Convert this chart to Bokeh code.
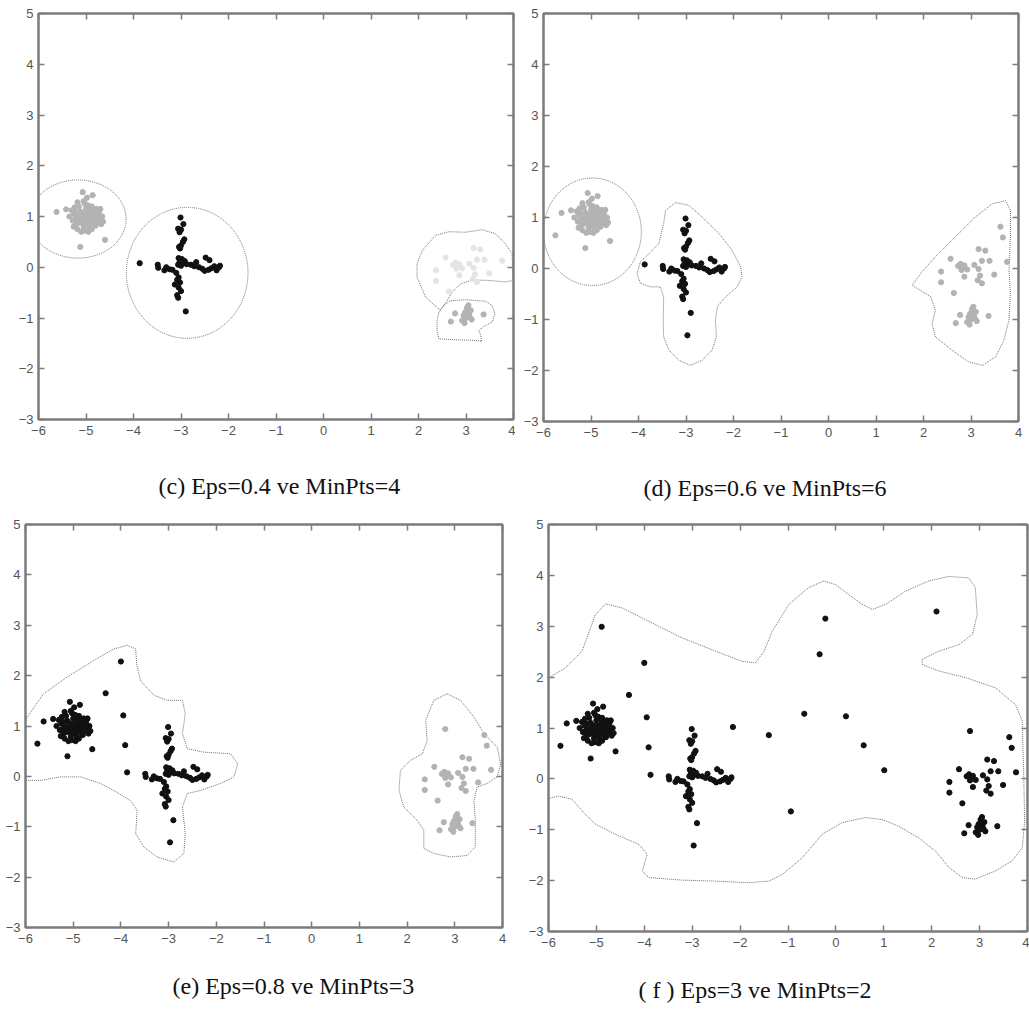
from bokeh.plotting import figure
from bokeh.layouts import column, row
from bokeh.models import LinearAxis, FixedTicker, Title
from bokeh.embed import file_html
from bokeh.resources import INLINE

# ---------------- data ----------------
x_ticks = [-6, -5, -4, -3, -2, -1, 0, 1, 2, 3, 4]
y_ticks = [-3, -2, -1, 0, 1, 2, 3, 4, 5]

# cluster A (dense blob near (-5, 1))
A_pts = [(-5.07, 1.48), (-4.86, 1.42), (-4.98, 1.37), (-5.62, 1.09), (-5.42, 1.14), (-5.12, 0.40), (-4.60, 0.54),
         (-5.30, 1.12), (-5.25, 1.05), (-5.22, 0.95), (-5.20, 0.85), (-5.18, 0.75), (-5.15, 1.20), (-5.12, 1.10),
         (-5.10, 1.00), (-5.08, 0.90), (-5.05, 0.80), (-5.03, 0.72), (-5.02, 1.25), (-5.00, 1.15), (-4.98, 1.05),
         (-4.97, 0.95), (-4.95, 0.85), (-4.93, 0.78), (-4.92, 1.18), (-4.90, 1.08), (-4.88, 0.98), (-4.86, 0.90),
         (-4.85, 1.12), (-4.83, 1.02), (-4.81, 0.94), (-4.80, 0.82), (-4.78, 1.15), (-4.76, 1.05), (-4.74, 0.97),
         (-4.72, 1.12), (-4.70, 0.92), (-4.68, 0.85), (-4.66, 1.00), (-5.28, 0.92), (-5.26, 0.80), (-5.24, 1.18),
         (-5.16, 0.98), (-5.14, 0.88), (-5.06, 1.05), (-5.04, 0.96), (-5.00, 0.88), (-4.96, 1.22), (-4.94, 1.00),
         (-4.90, 0.92), (-4.88, 1.20), (-4.84, 0.86), (-4.82, 1.08), (-4.79, 0.98), (-4.75, 0.90), (-4.73, 1.05),
         (-5.18, 1.28), (-5.10, 0.70), (-4.95, 0.70), (-5.35, 1.00), (-4.64, 0.90), (-5.05, 1.30), (-4.88, 0.75),
         (-5.20, 1.08), (-4.70, 1.15)]
A_extra_pts = [(-5.75, 0.65)]

# cluster B (cross near (-3, 0))
B_pts = [(-3.01, 0.98), (-2.95, 0.85), (-3.06, 0.76), (-3.00, 0.74), (-3.03, 0.69), (-2.93, 0.55), (-2.96, 0.50),
         (-3.04, 0.40), (-3.00, 0.43), (-3.02, 0.37), (-3.05, 0.18), (-2.98, 0.16), (-3.03, 0.10), (-2.96, 0.08),
         (-3.06, 0.05), (-3.00, 0.03), (-2.92, 0.12), (-2.88, 0.06),
         (-3.10, -0.11), (-3.05, -0.20), (-3.08, -0.25), (-3.13, -0.34), (-3.02, -0.30), (-3.05, -0.40),
         (-3.00, -0.47), (-3.08, -0.55), (-3.06, -0.60), (-2.90, -0.87),
         (-3.87, 0.08), (-3.49, 0.05), (-3.48, -0.01), (-3.31, 0.00), (-3.24, -0.04), (-3.18, -0.05), (-3.35, -0.06),
         (-2.79, 0.05), (-2.72, 0.02), (-2.68, 0.10), (-2.62, 0.00), (-2.55, -0.03), (-2.50, -0.07), (-2.48, 0.19),
         (-2.40, 0.14), (-2.42, -0.05), (-2.36, -0.02), (-2.30, 0.02), (-2.25, -0.06), (-2.20, 0.00), (-2.18, 0.03)]
B_extra_pts = [(-2.97, -1.31)]

# cluster C (right side)
C_up_pts = [(2.57, 0.19), (3.16, 0.38), (3.30, 0.35), (3.76, 0.13), (3.23, 0.15), (3.39, 0.15), (2.73, 0.05),
            (2.78, 0.09), (2.82, 0.02), (2.86, 0.06), (2.92, -0.02), (2.80, -0.03), (3.07, 0.07), (3.16, -0.01),
            (2.37, -0.06), (2.86, -0.16), (3.19, -0.14), (3.49, -0.12), (3.14, -0.23), (3.23, -0.29),
            (2.37, -0.27), (2.64, -0.48)]
C_low_pts = [(2.98, -0.89), (3.02, -0.80), (3.05, -0.75), (2.95, -0.95), (3.00, -1.00), (3.06, -0.92),
             (2.92, -1.05), (2.97, -1.10), (3.08, -0.98), (3.10, -0.85), (2.77, -0.91), (3.37, -0.93),
             (2.68, -1.07), (3.12, -1.03), (3.03, -0.86)]
C_extra_pts = [(3.62, 0.82), (3.67, 0.61)]
C_far_pts = [(2.80, 0.94)]

# noise points
N_e_pts = [(-4.00, 2.28), (-4.32, 1.65), (-3.95, 1.21), (-3.91, 0.62)]
N_f_pts = [(-4.89, 2.99), (-2.15, 1.02), (-1.40, 0.86), (-0.66, 1.28), (-0.34, 2.45), (-0.22, 3.15),
           (0.21, 1.23), (0.58, 0.66), (1.01, 0.17), (-0.94, -0.64), (2.10, 3.29)]

# cluster boundaries
c_ellipse_A = (-5.17, 0.95, 2.03, 1.54)   # x, y, width, height
c_ellipse_B = (-2.87, -0.11, 2.56, 2.58)
c_outline_C_up = [(2.46, -0.85), (2.15, -0.59), (1.97, -0.20), (1.97, 0.07), (2.08, 0.33), (2.36, 0.63),
                  (2.64, 0.70), (2.99, 0.69), (3.34, 0.74), (3.62, 0.66), (3.83, 0.46), (3.97, 0.27),
                  (3.99, -0.26), (3.83, -0.29), (3.48, -0.26), (3.13, -0.25), (2.88, -0.33), (2.71, -0.49),
                  (2.60, -0.66)]
c_outline_C_low = [(2.43, -0.89), (2.39, -1.05), (2.39, -1.25), (2.43, -1.41), (2.78, -1.43), (3.16, -1.44),
                   (3.33, -1.46), (3.31, -1.34), (3.27, -1.25), (3.37, -1.17), (3.55, -1.08), (3.61, -0.92),
                   (3.55, -0.75), (3.41, -0.67), (2.99, -0.64), (2.67, -0.66), (2.53, -0.75)]
d_circle_A = (-4.97, 0.72, 2.06, 2.11)
d_outline_B = [(-3.22, 1.29), (-2.94, 1.24), (-2.66, 1.01), (-2.31, 0.69), (-2.03, 0.36), (-1.85, 0.03),
               (-1.82, -0.16), (-1.92, -0.36), (-2.17, -0.56), (-2.34, -0.75), (-2.38, -1.01), (-2.36, -1.34),
               (-2.45, -1.60), (-2.66, -1.80), (-2.91, -1.90), (-3.15, -1.80), (-3.36, -1.60), (-3.47, -1.34),
               (-3.48, -1.01), (-3.47, -0.56), (-3.54, -0.36), (-3.75, -0.36), (-3.96, -0.29), (-4.03, -0.10),
               (-3.96, 0.13), (-3.78, 0.29), (-3.57, 0.49), (-3.47, 0.88), (-3.43, 1.14)]
d_outline_C = [(1.76, -0.33), (1.94, -0.10), (2.25, 0.23), (2.67, 0.62), (3.09, 1.01), (3.45, 1.27),
               (3.73, 1.33), (3.83, 1.14), (3.83, 0.62), (3.80, -0.03), (3.83, -0.49), (3.80, -1.01),
               (3.69, -1.41), (3.52, -1.73), (3.24, -1.90), (2.95, -1.83), (2.60, -1.60), (2.25, -1.34),
               (2.18, -1.08), (2.25, -0.82), (2.15, -0.55), (1.94, -0.43)]
e_outline_AB = [(-6.28, -0.08), (-6.28, 0.32), (-6.17, 0.71), (-5.96, 1.18), (-5.62, 1.64), (-5.13, 1.97),
                (-4.57, 2.30), (-4.15, 2.53), (-3.87, 2.60), (-3.69, 2.53), (-3.67, 2.24), (-3.59, 1.90),
                (-3.31, 1.61), (-3.03, 1.51), (-2.71, 1.51), (-2.65, 1.24), (-2.71, 0.85), (-2.61, 0.55),
                (-2.26, 0.48), (-1.70, 0.45), (-1.55, 0.25), (-1.63, -0.01), (-1.91, -0.14), (-2.33, -0.28),
                (-2.61, -0.34), (-2.71, -0.61), (-2.65, -1.14), (-2.68, -1.53), (-2.89, -1.70), (-3.24, -1.60),
                (-3.52, -1.40), (-3.69, -1.14), (-3.66, -0.67), (-3.80, -0.48), (-4.15, -0.28), (-4.43, -0.14),
                (-4.85, -0.01), (-5.27, -0.01), (-5.69, -0.08), (-6.10, -0.08)]
e_outline_C = [(2.84, 1.64), (3.12, 1.51), (3.40, 1.18), (3.61, 0.85), (3.89, 0.58), (3.96, 0.25),
               (3.89, -0.01), (3.68, -0.14), (3.47, -0.21), (3.40, -0.48), (3.43, -0.87), (3.43, -1.40),
               (3.26, -1.57), (2.91, -1.60), (2.56, -1.53), (2.35, -1.43), (2.35, -1.07), (2.21, -0.87),
               (1.93, -0.61), (1.83, -0.28), (1.86, 0.12), (2.07, 0.32), (2.32, 0.45), (2.42, 0.71),
               (2.39, 1.11), (2.56, 1.51)]
f_outline_all = [(-5.99, 1.99), (-5.65, 2.18), (-5.30, 2.51), (-5.02, 3.23), (-4.81, 3.44), (-4.46, 3.36),
                 (-3.91, 3.10), (-3.21, 2.77), (-2.51, 2.51), (-1.96, 2.31), (-1.68, 2.28), (-1.50, 2.51),
                 (-1.33, 2.90), (-0.98, 3.43), (-0.57, 3.76), (-0.25, 3.89), (-0.01, 3.82), (0.27, 3.62),
                 (0.55, 3.43), (0.76, 3.33), (1.04, 3.43), (1.45, 3.69), (1.94, 3.89), (2.36, 3.98),
                 (2.77, 3.95), (2.91, 3.76), (2.95, 3.23), (2.85, 2.84), (2.57, 2.64), (2.15, 2.51),
                 (1.80, 2.35), (1.80, 2.25), (2.15, 2.12), (2.71, 1.99), (3.33, 1.79), (3.75, 1.46),
                 (3.89, 1.14), (3.92, 0.15), (3.94, -0.83), (3.89, -1.35), (3.68, -1.61), (3.33, -1.81),
                 (2.91, -1.97), (2.64, -1.94), (2.36, -1.74), (2.08, -1.42), (1.73, -1.16), (1.31, -0.93),
                 (0.97, -0.80), (0.62, -0.76), (0.13, -0.86), (-0.29, -1.09), (-0.70, -1.55), (-1.12, -1.88),
                 (-1.40, -2.01), (-1.82, -2.04), (-2.51, -2.01), (-3.21, -1.99), (-3.91, -1.94), (-4.04, -1.81),
                 (-3.94, -1.48), (-4.11, -1.29), (-4.60, -1.09), (-5.02, -0.89), (-5.23, -0.70), (-5.51, -0.40),
                 (-5.79, -0.34), (-6.06, -0.40), (-6.08, 0.15), (-6.06, 1.14), (-6.05, 1.66)]

captions = ["(c) Eps=0.4 ve MinPts=4", "(d) Eps=0.6 ve MinPts=6",
            "(e) Eps=0.8 ve MinPts=3", "( f ) Eps=3 ve MinPts=2"]

# ---------------- styling ----------------
BLACK = "#111111"
GRAY = "#b3b3b3"
LIGHT = "#e4e4e4"
FRAME = "#7c7c7c"
OUTLINE = "#707070"


def xs(pts):
    return [p[0] for p in pts]


def ys(pts):
    return [p[1] for p in pts]


def panel(fw, fh, bl, br, bt, bb, caption, cap_off, cap_gap, cap_standoff):
    p = figure(frame_width=fw, frame_height=fh, x_range=(-6, 4), y_range=(-3, 5),
               output_backend="svg", toolbar_location=None,
               min_border_left=bl, min_border_right=br, min_border_top=bt, min_border_bottom=bb)
    p.background_fill_color = "white"
    p.border_fill_color = "white"
    p.outline_line_color = FRAME
    p.outline_line_width = 2
    p.xgrid.visible = False
    p.ygrid.visible = False
    p.xaxis.ticker = FixedTicker(ticks=x_ticks)
    p.yaxis.ticker = FixedTicker(ticks=y_ticks)
    for ax in (p.xaxis[0], p.yaxis[0]):
        ax.axis_line_color = FRAME
        ax.axis_line_width = 2
        ax.major_tick_in = 6
        ax.major_tick_out = 0
        ax.major_tick_line_color = FRAME
        ax.major_tick_line_width = 1.5
        ax.minor_tick_line_color = None
        ax.major_label_text_font = "Liberation Sans"
        ax.major_label_text_font_size = "13px"
        ax.major_label_text_color = "#555555"
    p.xaxis.major_label_standoff = 6
    p.yaxis.major_label_standoff = 5
    for loc, tk in (("above", x_ticks), ("right", y_ticks)):
        ax = LinearAxis(ticker=FixedTicker(ticks=tk), major_tick_in=6, major_tick_out=0,
                        major_tick_line_color=FRAME, major_tick_line_width=1.5,
                        minor_tick_line_color=None, axis_line_color=FRAME, axis_line_width=2,
                        major_label_text_font_size="1px", major_label_text_color=None,
                        major_label_standoff=0)
        p.add_layout(ax, loc)
    # blank band (white, invisible tick) between the tick labels and the caption
    spacer = LinearAxis(ticker=FixedTicker(ticks=x_ticks[:1]), major_tick_in=0, major_tick_out=cap_gap,
                        minor_tick_in=0, minor_tick_out=0, major_tick_line_color="white",
                        major_tick_line_width=1, minor_tick_line_color=None, axis_line_color=None,
                        major_label_text_font_size="1px", major_label_text_color=None,
                        major_label_standoff=0)
    p.add_layout(spacer, "below")
    cap = Title(text=caption, align="left", vertical_align="bottom", offset=cap_off,
                standoff=cap_standoff, text_font="Liberation Serif", text_font_size="24px",
                text_font_style="normal", text_color="#111111")
    p.add_layout(cap, "below")
    return p


def dots(p, pts, color):
    p.scatter(xs(pts), ys(pts), size=5.2, fill_color=color, line_color=color)


def outline(p, pts):
    p.patch(xs(pts), ys(pts), fill_color=None, line_color=OUTLINE, line_width=1, line_dash="1 1")


def ell(p, e):
    p.ellipse(x=e[0], y=e[1], width=e[2], height=e[3], fill_color=None,
              line_color=OUTLINE, line_width=1, line_dash="1 1")


# (c)
pc = panel(475, 406, 38, 2, 13, 91, captions[0], 120, 29, 8)
ell(pc, c_ellipse_A)
ell(pc, c_ellipse_B)
outline(pc, c_outline_C_up)
outline(pc, c_outline_C_low)
dots(pc, A_pts, GRAY)
dots(pc, B_pts, BLACK)
dots(pc, C_up_pts, LIGHT)
dots(pc, C_low_pts, GRAY)

# (d)
pd = panel(475, 408, 28, 11, 10, 92, captions[1], 100, 29, 8)
ell(pd, d_circle_A)
outline(pd, d_outline_B)
outline(pd, d_outline_C)
dots(pd, A_pts + A_extra_pts, GRAY)
dots(pd, B_pts + B_extra_pts, BLACK)
dots(pd, C_up_pts + C_low_pts + C_extra_pts, GRAY)

# (e)
pe = panel(477, 403, 25, 23, 14, 82, captions[2], 147, 22, 6)
outline(pe, e_outline_AB)
outline(pe, e_outline_C)
dots(pe, A_pts + A_extra_pts + B_pts + B_extra_pts + N_e_pts, BLACK)
dots(pe, C_up_pts + C_low_pts + C_extra_pts + C_far_pts, GRAY)

# (f)
pf = panel(479, 407, 23, 2, 10, 82, captions[3], 90, 22, 6)
outline(pf, f_outline_all)
dots(pf, A_pts + A_extra_pts + B_pts + B_extra_pts + N_e_pts + N_f_pts
     + C_up_pts + C_low_pts + C_extra_pts + C_far_pts, BLACK)

layout = column(row(pc, pd), row(pe, pf))
open("out.html", "w").write(file_html(layout, INLINE))
